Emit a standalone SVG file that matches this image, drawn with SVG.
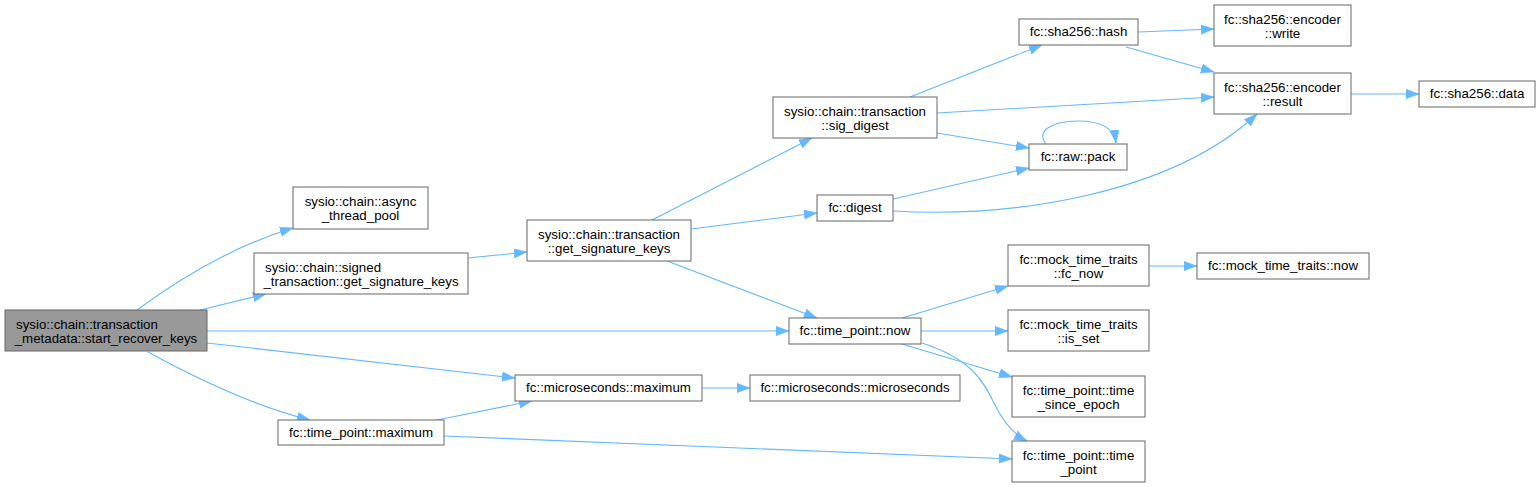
<svg xmlns="http://www.w3.org/2000/svg" width="1538" height="487" viewBox="0 0 1538 487">
<style>
.n rect{fill:#ffffff;stroke:#666666;stroke-width:1}
.n.root rect{fill:#999999}
.n text{font-family:"Liberation Sans",Arial,Helvetica,sans-serif;font-size:13.3px;fill:#000000;text-anchor:middle}
.n text.s{text-anchor:start}
.e path{fill:none;stroke:#63b8ff;stroke-width:1.1;marker-end:url(#ah)}
</style>
<defs>
<marker id="ah" markerUnits="userSpaceOnUse" markerWidth="13" markerHeight="10" refX="13" refY="4.7" orient="auto">
<path d="M0,0 L13,4.7 L0,9.4 z" fill="#63b8ff" stroke="#63b8ff" stroke-width="0.5"/>
</marker>
</defs>
<rect width="1538" height="487" fill="#ffffff"/>
<g id="edges" class="e">
<path d="M137,310 C175,282 230,247 293,228"/>
<path d="M200,310 L266,294"/>
<path d="M207,331 L789,331"/>
<path d="M207,343 L515,378"/>
<path d="M148,352 C190,375 250,405 310,420"/>
<path d="M437,420 L532,401"/>
<path d="M444,436 L1012,459"/>
<path d="M702,388 L750,388"/>
<path d="M468,258 L527,252"/>
<path d="M652,220 L812,138"/>
<path d="M691,229 L817,213"/>
<path d="M667,261 L817,318"/>
<path d="M910,97 L1042,45"/>
<path d="M937,113 L1214,97"/>
<path d="M937,133 L1029,148"/>
<path d="M1046,144 C1036,132 1050,121 1078,121 C1100,121 1114,127 1116,143"/>
<path d="M893,199 L1029,168"/>
<path d="M893,211 C1010,218 1170,195 1257,114"/>
<path d="M1138,32 L1214,29"/>
<path d="M1126,47 L1214,72"/>
<path d="M1351,94 L1419,94"/>
<path d="M902,318 L1008,286"/>
<path d="M921,331 L1008,331"/>
<path d="M902,344 L1012,377"/>
<path d="M922,343 C975,360 985,385 995,405 C1005,425 1015,435 1027,441"/>
<path d="M1149,266 L1197,266"/>
</g>
<g id="start_recover_keys" class="n root"><rect x="5" y="310" width="202" height="41"/><text class="s" x="16" y="329">sysio::chain::transaction</text><text x="106" y="343">_metadata::start_recover_keys</text></g>
<g id="async_thread_pool" class="n"><rect x="293" y="187" width="135" height="42"/><text x="360.5" y="206">sysio::chain::async</text><text x="360.5" y="220">_thread_pool</text></g>
<g id="signed_get_signature_keys" class="n"><rect x="254" y="253" width="214" height="41"/><text class="s" x="265" y="272">sysio::chain::signed</text><text x="361" y="286">_transaction::get_signature_keys</text></g>
<g id="transaction_get_signature_keys" class="n"><rect x="527" y="220" width="164" height="41"/><text x="609" y="239">sysio::chain::transaction</text><text x="609" y="253">::get_signature_keys</text></g>
<g id="sig_digest" class="n"><rect x="773" y="97" width="164" height="41"/><text x="855" y="116">sysio::chain::transaction</text><text x="855" y="130">::sig_digest</text></g>
<g id="fc_digest" class="n"><rect x="817" y="195" width="76" height="26"/><text x="855" y="212">fc::digest</text></g>
<g id="sha256_hash" class="n"><rect x="1019" y="19" width="119" height="26"/><text x="1078.5" y="36">fc::sha256::hash</text></g>
<g id="raw_pack" class="n"><rect x="1029" y="144" width="98" height="26"/><text x="1078" y="161">fc::raw::pack</text></g>
<g id="encoder_write" class="n"><rect x="1214" y="5" width="137" height="41"/><text x="1282.5" y="24">fc::sha256::encoder</text><text x="1282.5" y="38">::write</text></g>
<g id="encoder_result" class="n"><rect x="1214" y="73" width="137" height="41"/><text x="1282.5" y="92">fc::sha256::encoder</text><text x="1282.5" y="106">::result</text></g>
<g id="sha256_data" class="n"><rect x="1419" y="81" width="116" height="26"/><text x="1477" y="98">fc::sha256::data</text></g>
<g id="time_point_now" class="n"><rect x="789" y="318" width="132" height="26"/><text x="855" y="335">fc::time_point::now</text></g>
<g id="mock_fc_now" class="n"><rect x="1008" y="245" width="141" height="41"/><text x="1078.5" y="264">fc::mock_time_traits</text><text x="1078.5" y="278">::fc_now</text></g>
<g id="mock_now" class="n"><rect x="1197" y="253" width="172" height="26"/><text x="1283" y="270">fc::mock_time_traits::now</text></g>
<g id="mock_is_set" class="n"><rect x="1008" y="310" width="141" height="41"/><text x="1078.5" y="329">fc::mock_time_traits</text><text x="1078.5" y="343">::is_set</text></g>
<g id="time_since_epoch" class="n"><rect x="1012" y="376" width="133" height="41"/><text x="1078.5" y="395">fc::time_point::time</text><text x="1078.5" y="409">_since_epoch</text></g>
<g id="time_point_ctor" class="n"><rect x="1012" y="441" width="133" height="41"/><text x="1078.5" y="460">fc::time_point::time</text><text x="1078.5" y="474">_point</text></g>
<g id="microseconds_maximum" class="n"><rect x="515" y="375" width="187" height="26"/><text x="608.5" y="392">fc::microseconds::maximum</text></g>
<g id="microseconds_ctor" class="n"><rect x="750" y="375" width="210" height="26"/><text x="855" y="392">fc::microseconds::microseconds</text></g>
<g id="time_point_maximum" class="n"><rect x="278" y="420" width="166" height="25"/><text x="361" y="437">fc::time_point::maximum</text></g>
</svg>
